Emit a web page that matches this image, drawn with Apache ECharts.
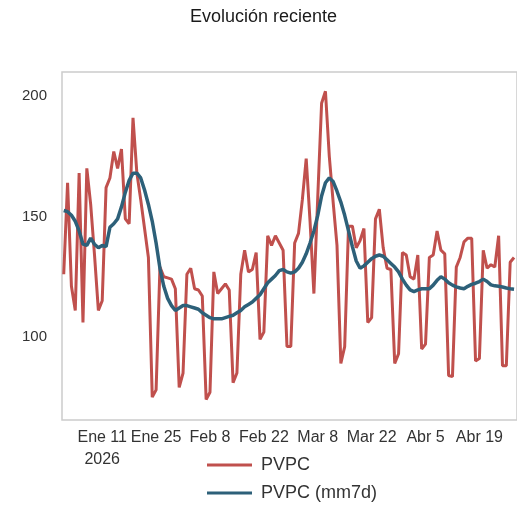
<!DOCTYPE html>
<html>
<head>
<meta charset="utf-8">
<script src="https://cdn.jsdelivr.net/npm/echarts@6/dist/echarts.min.js"></script>
<style>
  html, body { margin: 0; padding: 0; background: #fff; }
  #chart { width: 517px; height: 506px; }
</style>
</head>
<body>
<div id="chart"></div>
<script>
// Daily PVPC price, 1 Jan 2026 onwards, and its 7-day moving average
const firstDay = [2026, 0, 1];

const pvpc = [
  126, 164, 121, 111, 168, 106, 170, 155, 134, 111,
  115, 162, 166, 177, 170, 178, 149, 147, 191, 168,
  157, 145, 133, 75, 78, 129, 125, 124.5, 124, 120,
  79, 85, 126, 128.5, 120, 119.5, 117, 74, 77, 127,
  118, 120, 122, 119.5, 81, 85, 126, 136, 127, 128,
  135, 99, 102, 142, 138, 142, 139, 136, 96, 96,
  139, 143, 157, 174, 148, 118, 158, 197, 202, 175,
  156, 138, 89, 96, 146, 146, 137, 140, 145, 106,
  108, 149, 153, 137, 128.5, 128, 89, 93, 135, 134,
  125, 124, 134, 95, 97, 133, 134, 144, 136, 134.5,
  84, 83.5, 129, 133, 139.5, 141, 141, 90, 91, 136,
  128.5, 130, 129, 142, 88, 88, 131, 133
];

const pvpcMm7d = [
  152.5, 152, 150.5, 148, 144, 138.5, 138, 141, 138.5, 137,
  138, 137.5, 145.5, 147, 149, 154, 160, 165, 168, 168,
  166, 161, 155, 148, 139, 128.5, 121, 116, 113, 111,
  112, 113, 113, 112.5, 112, 111.5, 110, 109, 108, 107.5,
  107.5, 107.5, 108, 108.5, 109, 110, 111, 112.5, 113.5, 114.5,
  116, 117.5, 120, 122.5, 124, 125.5, 127.5, 128, 127, 126.5,
  127, 128.5, 131, 134.5, 139, 144, 150.5, 158.5, 164, 166,
  164.5, 160.5, 156, 150.5, 144, 137.5, 131.5, 128.5, 129.5, 131,
  132.5, 133.5, 134, 133.5, 132, 130.5, 129, 127, 124, 121.5,
  119.5, 118.8, 119.5, 120, 120, 120, 121.5, 123.5, 125, 124,
  122.5, 121.5, 120.8, 120.3, 120, 121, 121.8, 122.3, 123, 124,
  123, 121.6, 121.2, 121, 120.7, 120.3, 120, 119.8
];

const tickDates = ['2026-01-11', '2026-01-25', '2026-02-08', '2026-02-22',
                   '2026-03-08', '2026-03-22', '2026-04-05', '2026-04-19'];
const tickLabels = ['Ene 11\n2026', 'Ene 25', 'Feb 8', 'Feb 22',
                    'Mar 8', 'Mar 22', 'Abr 5', 'Abr 19'];
const yTicks = [100, 150, 200];

// one ISO date per sample, counted from the first day
const days = pvpc.map((_, i) =>
  new Date(Date.UTC(firstDay[0], firstDay[1], firstDay[2] + i)).toISOString().slice(0, 10));
const tickPos = tickDates.map(d => days.indexOf(d));

const font = '"Liberation Sans", Arial, sans-serif';
const chart = echarts.init(document.getElementById('chart'));

chart.setOption({
  animation: false,
  backgroundColor: '#ffffff',
  textStyle: { fontFamily: font },
  title: {
    text: 'Evolución reciente',
    left: 190,
    top: 8,
    padding: 0,
    textStyle: { fontSize: 18, fontWeight: 'normal', color: '#1a1a1a', fontFamily: font }
  },
  grid: {
    left: 62, top: 72, right: -3, bottom: 86,
    show: true,
    borderColor: '#cccccc',
    borderWidth: 1.5,
    backgroundColor: 'transparent'
  },
  xAxis: {
    type: 'value',
    min: -0.45,
    max: 117.77,
    axisLine: { show: false },
    axisTick: { show: false },
    splitLine: { show: false },
    axisLabel: {
      customValues: tickPos,
      formatter: v => tickLabels[tickPos.indexOf(v)],
      fontSize: 16,
      lineHeight: 22,
      color: '#333333',
      margin: 7,
      fontFamily: font
    }
  },
  yAxis: {
    type: 'value',
    min: 65.5,
    max: 210,
    axisLine: { show: false },
    axisTick: { show: false },
    splitLine: { show: false },
    axisLabel: {
      customValues: yTicks,
      fontSize: 15,
      color: '#333333',
      margin: 15,
      fontFamily: font
    }
  },
  legend: {
    orient: 'vertical',
    left: 207,
    top: 455,
    padding: 0,
    icon: 'rect',
    itemWidth: 45,
    itemHeight: 3,
    itemGap: 8,
    textStyle: { fontSize: 18, color: '#333333', lineHeight: 20, padding: [0, 0, 0, 4], fontFamily: font },
    data: ['PVPC', 'PVPC (mm7d)']
  },
  series: [
    {
      name: 'PVPC',
      type: 'line',
      symbol: 'none',
      data: pvpc.map((v, i) => [i, v]),
      lineStyle: { color: '#c0504d', width: 3 },
      itemStyle: { color: '#c0504d' }
    },
    {
      name: 'PVPC (mm7d)',
      type: 'line',
      symbol: 'none',
      data: pvpcMm7d.map((v, i) => [i, v]),
      lineStyle: { color: '#2d6079', width: 3.5 },
      itemStyle: { color: '#2d6079' }
    }
  ]
});
</script>
</body>
</html>
